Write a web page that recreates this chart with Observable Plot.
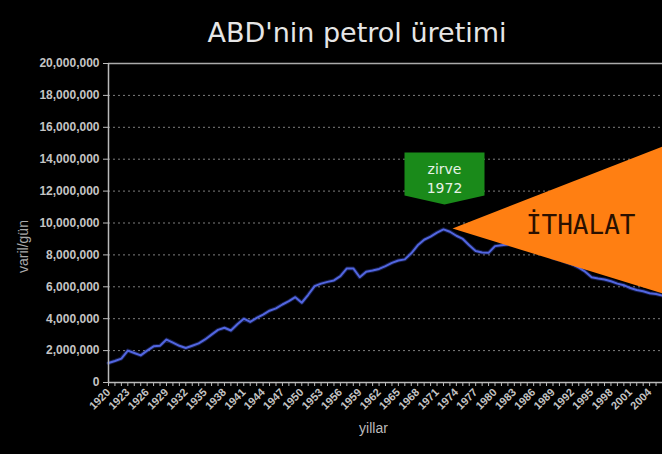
<!DOCTYPE html>
<html>
<head>
<meta charset="utf-8">
<script src="https://cdn.jsdelivr.net/npm/d3@7"></script>
<script src="https://cdn.jsdelivr.net/npm/@observablehq/plot@0.6"></script>
<style>
  html, body { margin: 0; padding: 0; background: #000; }
  #wrap { width: 662px; height: 454px; overflow: hidden; background: #000; }
  #title { height: 50px; box-sizing: border-box; padding-top: 19px; padding-left: 52px; text-align: center;
           font-family: "DejaVu Sans", sans-serif; font-size: 27px; line-height: 1; color: #e6e6e6; }
</style>
</head>
<body>
<div id="wrap">
  <div id="title">ABD'nin petrol üretimi</div>
  <div id="chart"></div>
</div>
<script>
// Years and U.S. crude oil production (barrels per day)
const years = d3.range(1920, 2007);
const production = [
  1.22, 1.35, 1.50, 2.00, 1.85, 1.70, 2.00, 2.27, 2.31, 2.69,   // 1920-1929
  2.50, 2.30, 2.16, 2.30, 2.45, 2.70, 3.00, 3.30, 3.43, 3.26,   // 1930-1939
  3.65, 4.00, 3.80, 4.05, 4.25, 4.50, 4.65, 4.89, 5.10, 5.35,   // 1940-1949
  5.00, 5.50, 6.04, 6.20, 6.31, 6.40, 6.67, 7.15, 7.15, 6.60,   // 1950-1959
  6.95, 7.02, 7.12, 7.30, 7.50, 7.65, 7.72, 8.10, 8.60, 8.95,   // 1960-1969
  9.15, 9.40, 9.60, 9.45, 9.20, 9.00, 8.60, 8.25, 8.15, 8.13,   // 1970-1979
  8.55, 8.60, 8.65, 8.70, 8.85, 8.95, 8.70, 8.35, 8.10, 7.80,   // 1980-1989
  7.70, 7.55, 7.40, 7.20, 6.95, 6.60, 6.52, 6.46, 6.35, 6.20,   // 1990-1999
  6.10, 5.92, 5.80, 5.72, 5.60, 5.55, 5.45                      // 2000-2006
].map(v => v * 1e6);

// Axis ticks
const yTicks = d3.range(0, 20000001, 2000000);
const gridTicks = d3.range(2000000, 18000001, 2000000);
const yearTicks = d3.range(1920, 2006);
const yearLabels = d3.range(1920, 2005, 3);

// Annotations (in data units)
const importWedge = [
  {year: 1973.4, value: 9.65e6},
  {year: 2006, value: 14.8e6},
  {year: 2006, value: 5.58e6}
];
const peakCallout = [
  {year: 1965.95, value: 14.42e6},
  {year: 1978.37, value: 14.42e6},
  {year: 1978.37, value: 11.72e6},
  {year: 1972.16, value: 11.16e6},
  {year: 1965.95, value: 11.72e6}
];
const peakLabel = [{year: 1972.16, value: 12.88e6, text: "zirve\n1972"}];
const importLabel = [{year: 1993.3, value: 9.84e6, text: "İTHALAT"}];

const data = years.map((y, i) => ({year: y, value: production[i]}));

const chart = Plot.plot({
  width: 662,
  height: 404,
  marginLeft: 108,
  marginRight: 0,
  marginTop: 13,
  marginBottom: 72,
  style: {background: "#000", color: "#c4c4c4", fontFamily: "Liberation Sans, Arial, sans-serif", fontSize: "12px", fontWeight: "bold", overflow: "visible"},
  x: {domain: [1920, 2006]},
  y: {domain: [0, 20000000]},
  marks: [
    Plot.gridY(gridTicks, {stroke: "#aaa", strokeOpacity: 0.75, strokeDasharray: "2,3"}),
    Plot.ruleY([20000000], {stroke: "#aaa", strokeWidth: 1.5}),
    Plot.line(data, {x: "year", y: "value", stroke: "#3a4ec8", strokeWidth: 4, strokeOpacity: 0.35}),
    Plot.line(data, {x: "year", y: "value", stroke: "#5266e0", strokeWidth: 2}),
    Plot.line(importWedge, {x: "year", y: "value", fill: "#ff7f12", stroke: "none"}),
    Plot.line(peakCallout, {x: "year", y: "value", fill: "#1a8a1a", stroke: "none"}),
    Plot.text(peakLabel, {x: "year", y: "value", text: "text", fill: "#e6f2e6", fontSize: 14, fontWeight: "normal", fontFamily: "DejaVu Sans, sans-serif", lineHeight: 1.35}),
    Plot.text(importLabel, {x: "year", y: "value", text: "text", fill: "#2a1000", fontSize: 26, fontWeight: "normal", fontFamily: "DejaVu Sans Mono, monospace"}),
    Plot.axisY(yTicks, {tickSize: 5, tickPadding: 4, tickFormat: d3.format(","), label: null, stroke: "#bbb", fontSize: 12}),
    Plot.axisX(yearTicks, {tickSize: 4, tickFormat: () => "", label: null, stroke: "#bbb"}),
    Plot.axisX(yearLabels, {tickSize: 0, tickPadding: 8, tickRotate: -45, tickFormat: d => String(d), label: null, fontSize: 11}),
    Plot.ruleX([1920], {stroke: "#bbb", strokeWidth: 1.5}),
    Plot.ruleY([0], {stroke: "#bbb", strokeWidth: 1.5}),
    Plot.text(["varil/gün"], {frameAnchor: "left", dx: -85, dy: 50, rotate: -90, fill: "#aaa", fontSize: 14, fontWeight: "normal"}),
    Plot.text(["yillar"], {frameAnchor: "bottom", dx: -12, dy: 50, fill: "#bbb", fontSize: 14, fontWeight: "normal"})
  ]
});
document.getElementById("chart").appendChild(chart);
</script>
</body>
</html>
